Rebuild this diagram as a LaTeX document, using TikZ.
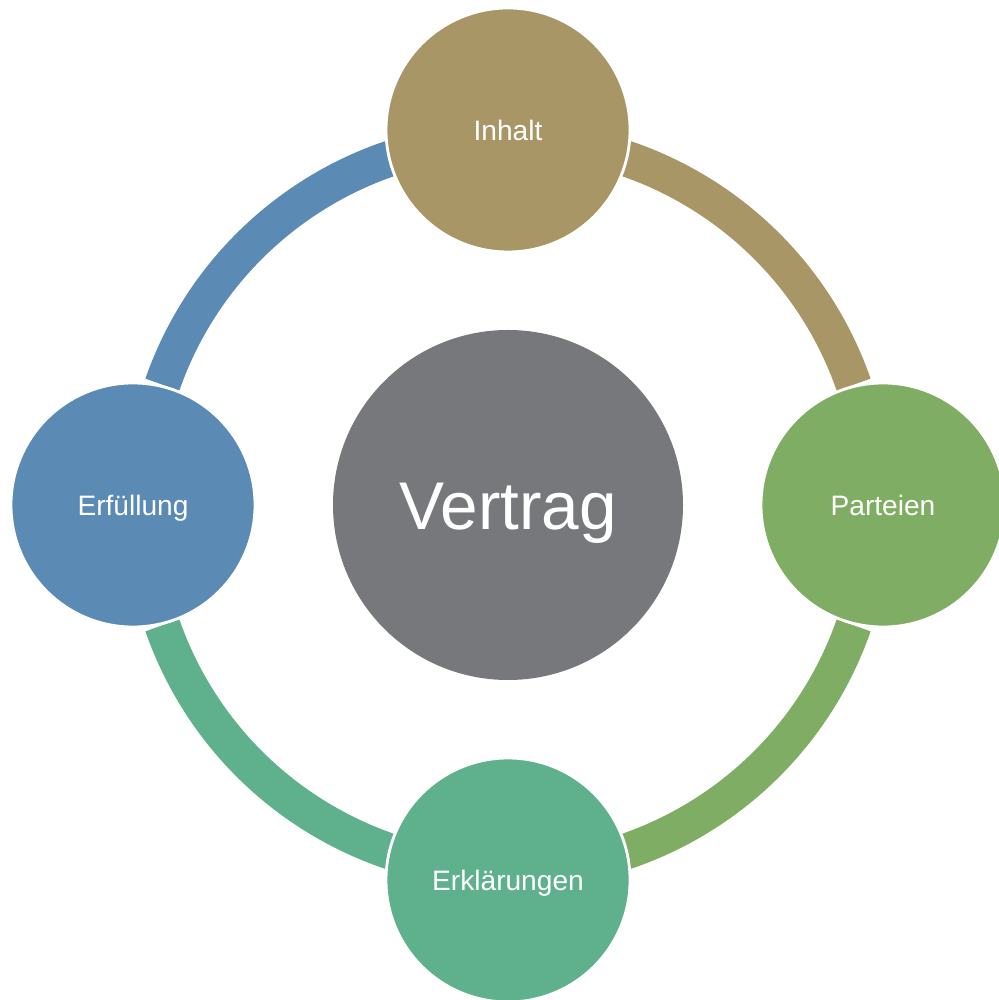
\documentclass[tikz,border=0pt]{standalone}
\usepackage{fontspec}
\setmainfont{Liberation Sans}
\usetikzlibrary{positioning}

\definecolor{inhaltcol}{HTML}{A99667}
\definecolor{parteiencol}{HTML}{7FAD63}
\definecolor{erklcol}{HTML}{5FB08D}
\definecolor{erfcol}{HTML}{5B8AB5}
\definecolor{vertragcol}{HTML}{77787B}

\tikzset{
  part/.style={circle,draw=white,line width=0.8pt,minimum size=2.44cm,inner sep=0pt,
    text=white,font=\fontsize{8}{10}\selectfont,text height=5.73pt,text depth=0pt},
  ring/.style={line width=0.36cm},
}

\begin{document}
\begin{tikzpicture}[x=1.0cm,y=1.0cm]
  \useasboundingbox (-5.08,-4.95) rectangle (4.90,5.05);
  \coordinate (c) at (0,0);
  % ring segments
  \draw[ring,inhaltcol] ([shift={(90:3.66)}]c) arc[start angle=90,end angle=19.2,radius=3.66];
  \draw[ring,parteiencol] ([shift={(-19.2:3.66)}]c) arc[start angle=-19.2,end angle=-90,radius=3.66];
  \draw[ring,erklcol] ([shift={(270:3.66)}]c) arc[start angle=270,end angle=199.2,radius=3.66];
  \draw[ring,erfcol] ([shift={(160.8:3.66)}]c) arc[start angle=160.8,end angle=90,radius=3.66];
  % circles
  \node[circle,fill=vertragcol,minimum size=3.5cm,inner sep=0pt,text=white,
    font=\fontsize{19.2}{23}\selectfont,text height=13.75pt,text depth=0pt] (vertrag) at (c) {Vertrag};
  \node[part,fill=inhaltcol] (inhalt) at (0,3.75) {Inhalt};
  \node[part,fill=parteiencol] (parteien) at (3.75,0) {Parteien};
  \node[part,fill=erklcol] (erkl) at (0,-3.75) {Erklärungen};
  \node[part,fill=erfcol] (erf) at (-3.75,0) {Erfüllung};
\end{tikzpicture}
\end{document}
